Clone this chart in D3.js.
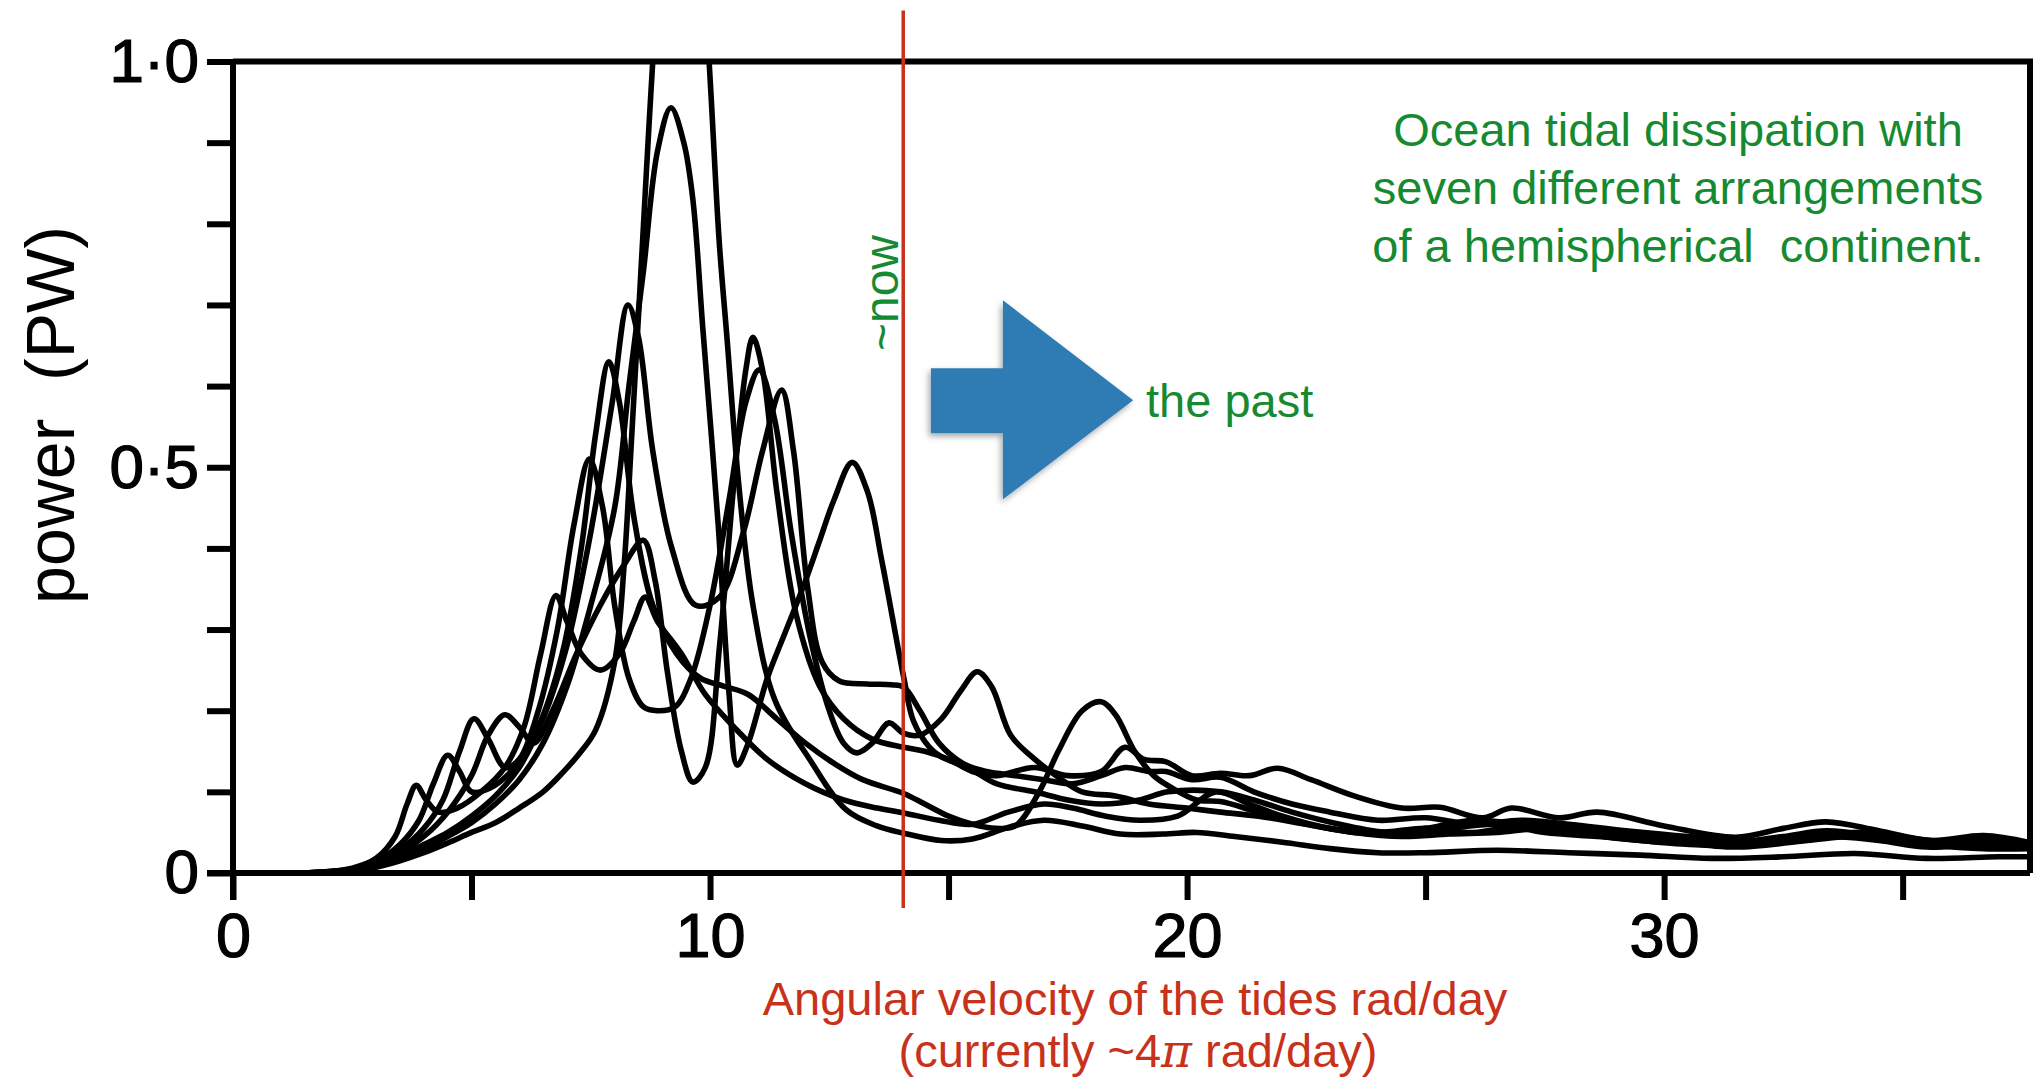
<!DOCTYPE html>
<html>
<head>
<meta charset="utf-8">
<script src="https://cdn.jsdelivr.net/npm/d3@7"></script>
<style>
  body { margin: 0; background: #fff; overflow: hidden; }
  text { font-family: "Liberation Sans", Arial, Helvetica, sans-serif; white-space: pre; }
</style>
</head>
<body>
<div id="chart"></div>
<script>
const WIDTH = 2034, HEIGHT = 1085;
const PLOT = {LEFT: 233, RIGHT: 2030, TOP: 61.5, BOTTOM: 873};

// axis ticks
const xTickValues = [0, 5, 10, 15, 20, 25, 30, 35];
const xTickLabels = [0, 10, 20, 30];
const yTickValues = [0, 0.1, 0.2, 0.3, 0.4, 0.5, 0.6, 0.7, 0.8, 0.9, 1.0];
const yTickLabels = {0: "0", 0.5: "0·5", 1: "1·0"};
const X_MAX = 37.67;

// "now" marker (rad/day) and the arrow towards the past, in data units
const nowX = 14.05;
const nowSpan = [-0.043, 1.063];
const arrowShape = [[14.63, 0.542], [16.14, 0.542], [16.14, 0.4606], [18.87, 0.5825],
                    [16.14, 0.7057], [16.14, 0.622], [14.63, 0.622]];

// seven continent arrangements: [angular velocity, power PW]
const curveA = [[1.5,0],[2.5,0.002],[3.0,0.007],[3.5,0.015],[4.0,0.025],[4.5,0.037],[5.0,0.05],[5.5,0.062],
  [6.0,0.08],[6.5,0.1],[6.9,0.123],[7.3,0.15],[7.6,0.176],[8.0,0.26],[8.2,0.38],[8.35,0.53],[8.55,0.74],
  [8.7,0.9],[8.85,1.05],[9.1,1.28],[9.4,1.38],[9.7,1.24],[9.98,1.0],[10.19,0.78],[10.36,0.656],[10.6,0.48],
  [10.9,0.33],[11.36,0.213],[12.1,0.139],[12.85,0.078],[13.5,0.058],[14.06,0.049],[14.85,0.04],[15.5,0.042],
  [16.3,0.057],[17.0,0.065],[17.8,0.058],[18.6,0.048],[19.5,0.048],[20.2,0.05],[21.0,0.045],[22.0,0.038],
  [23.0,0.03],[24.0,0.025],[25.0,0.025],[26.5,0.028],[28.0,0.025],[29.5,0.022],[31.0,0.018],[32.5,0.02],
  [34.0,0.024],[35.5,0.018],[37.0,0.02],[37.7,0.02]];

const curveB = [[1.5,0],[2.5,0.003],[3.0,0.008],[3.5,0.018],[4.0,0.03],[4.5,0.045],[5.0,0.062],[5.5,0.085],
  [6.0,0.115],[6.5,0.16],[7.0,0.23],[7.5,0.33],[8.0,0.45],[8.3,0.6],[8.6,0.74],[8.9,0.89],[9.18,0.943],
  [9.45,0.9],[9.64,0.83],[9.85,0.67],[10.17,0.43],[10.4,0.22],[10.57,0.133],[10.8,0.16],[11.2,0.24],
  [11.6,0.3],[12.0,0.36],[12.3,0.41],[12.6,0.46],[12.98,0.506],[13.3,0.47],[13.6,0.385],[14.06,0.241],
  [14.26,0.188],[14.6,0.155],[14.85,0.143],[15.4,0.13],[16.0,0.11],[16.8,0.1],[17.5,0.09],[18.2,0.085],
  [19.0,0.09],[19.6,0.1],[20.7,0.1],[21.4,0.09],[22.2,0.075],[23.2,0.06],[24.2,0.05],[25.0,0.055],
  [26.0,0.065],[27.0,0.06],[28.0,0.055],[29.0,0.048],[30.5,0.04],[32.0,0.035],[33.4,0.045],[34.5,0.04],
  [35.5,0.032],[36.7,0.035],[37.7,0.03]];

const curveC = [[1.5,0],[2.5,0.004],[3.0,0.01],[3.5,0.024],[4.0,0.045],[4.5,0.075],[5.0,0.12],[5.35,0.17],
  [5.7,0.195],[6.0,0.18],[6.3,0.16],[6.7,0.2],[7.2,0.27],[7.7,0.33],[8.2,0.38],[8.6,0.41],[8.85,0.36],
  [9.1,0.25],[9.4,0.15],[9.64,0.112],[9.9,0.13],[10.2,0.28],[10.5,0.48],[10.75,0.62],[10.9,0.66],
  [11.1,0.62],[11.4,0.47],[11.8,0.32],[12.3,0.23],[12.8,0.19],[13.4,0.165],[14.06,0.155],[14.5,0.15],
  [15.0,0.14],[15.5,0.125],[16.0,0.12],[16.8,0.13],[17.5,0.12],[18.2,0.125],[18.7,0.155],[19.1,0.14],
  [19.56,0.137],[20.1,0.12],[20.7,0.123],[21.3,0.12],[21.9,0.129],[22.6,0.115],[23.5,0.095],[24.5,0.08],
  [25.3,0.081],[26.2,0.068],[26.8,0.08],[27.8,0.068],[28.6,0.075],[30.0,0.058],[31.5,0.044],[32.5,0.055],
  [33.4,0.063],[34.5,0.052],[35.6,0.04],[36.7,0.046],[37.7,0.037]];

const curveD = [[1.5,0],[2.5,0.004],[3.0,0.011],[3.5,0.028],[4.0,0.055],[4.4,0.09],[4.75,0.15],[5.05,0.19],
  [5.35,0.165],[5.7,0.13],[6.0,0.14],[6.4,0.2],[6.8,0.3],[7.15,0.43],[7.47,0.51],[7.75,0.45],[8.0,0.33],
  [8.3,0.24],[8.6,0.205],[8.9,0.2],[9.27,0.205],[9.6,0.24],[10.0,0.33],[10.4,0.46],[10.75,0.58],[11.03,0.62],
  [11.35,0.56],[11.7,0.42],[12.1,0.29],[12.5,0.2],[12.8,0.16],[13.08,0.148],[13.4,0.16],[13.75,0.185],
  [14.06,0.172],[14.4,0.17],[14.85,0.19],[15.26,0.225],[15.6,0.248],[15.9,0.23],[16.3,0.17],[16.75,0.143],
  [17.3,0.118],[17.8,0.1],[18.5,0.095],[19.2,0.085],[20.0,0.08],[20.7,0.075],[21.5,0.07],[22.5,0.06],
  [23.5,0.05],[24.5,0.048],[25.5,0.055],[26.5,0.06],[27.5,0.05],[28.6,0.045],[30.0,0.038],[31.5,0.035],
  [33.0,0.045],[34.2,0.05],[35.6,0.04],[36.7,0.038],[37.7,0.035]];

const curveE = [[1.5,0],[2.5,0.005],[3.0,0.014],[3.5,0.035],[3.9,0.065],[4.2,0.11],[4.5,0.145],[4.75,0.125],
  [5.0,0.1],[5.4,0.105],[5.9,0.13],[6.4,0.18],[6.9,0.27],[7.3,0.4],[7.6,0.54],[7.88,0.63],[8.1,0.58],
  [8.4,0.44],[8.8,0.33],[9.3,0.27],[9.8,0.24],[10.3,0.23],[10.8,0.22],[11.4,0.19],[12.0,0.16],[12.6,0.135],
  [13.2,0.115],[14.06,0.098],[14.5,0.085],[15.0,0.07],[15.5,0.06],[16.0,0.055],[16.4,0.058],[16.9,0.1],
  [17.3,0.15],[17.8,0.2],[18.2,0.211],[18.5,0.195],[18.9,0.15],[19.3,0.12],[19.65,0.106],[20.2,0.09],
  [20.7,0.088],[21.5,0.075],[22.5,0.06],[23.5,0.05],[24.5,0.045],[25.5,0.048],[26.5,0.05],[27.5,0.055],
  [28.5,0.048],[30.0,0.04],[31.5,0.032],[33.0,0.04],[34.0,0.045],[35.5,0.035],[36.7,0.03],[37.7,0.03]];

const curveF = [[1.5,0],[2.5,0.003],[3.0,0.009],[3.5,0.02],[4.0,0.035],[4.5,0.05],[5.0,0.07],[5.5,0.095],
  [6.0,0.13],[6.5,0.19],[7.0,0.28],[7.5,0.42],[7.95,0.58],[8.28,0.7],[8.5,0.66],[8.8,0.52],[9.2,0.4],
  [9.7,0.33],[10.2,0.34],[10.7,0.42],[11.1,0.52],[11.5,0.595],[11.75,0.52],[12.05,0.35],[12.35,0.26],
  [12.7,0.237],[13.3,0.233],[13.8,0.232],[14.06,0.229],[14.4,0.2],[14.8,0.16],[15.3,0.135],[15.8,0.125],
  [16.4,0.12],[17.0,0.115],[17.6,0.11],[18.2,0.12],[18.7,0.13],[19.2,0.125],[19.56,0.125],[20.1,0.115],
  [20.7,0.118],[21.4,0.1],[22.2,0.085],[23.0,0.075],[24.0,0.065],[25.0,0.068],[26.0,0.06],[27.0,0.065],
  [28.0,0.06],[29.2,0.052],[30.5,0.045],[32.0,0.04],[33.4,0.05],[34.6,0.045],[35.8,0.038],[36.8,0.04],
  [37.7,0.033]];

const curveG = [[1.5,0],[2.5,0.006],[3.0,0.018],[3.4,0.045],[3.65,0.085],[3.84,0.108],[4.05,0.09],
  [4.3,0.075],[4.7,0.08],[5.2,0.1],[5.7,0.13],[6.1,0.18],[6.45,0.27],[6.77,0.342],[7.0,0.31],[7.3,0.27],
  [7.7,0.25],[8.1,0.27],[8.4,0.31],[8.64,0.34],[8.9,0.31],[9.4,0.27],[9.9,0.22],[10.5,0.18],[11.2,0.14],
  [12.0,0.11],[12.8,0.09],[13.5,0.08],[14.06,0.074],[14.8,0.065],[15.5,0.06],[16.25,0.075],[17.0,0.085],
  [17.6,0.08],[18.3,0.07],[19.0,0.065],[19.8,0.07],[20.6,0.1],[21.3,0.085],[22.0,0.07],[23.0,0.055],
  [24.0,0.05],[25.0,0.055],[26.0,0.05],[27.0,0.058],[28.0,0.05],[29.5,0.04],[31.0,0.035],[32.5,0.045],
  [33.4,0.052],[34.5,0.045],[35.6,0.035],[36.7,0.04],[37.7,0.035]];

const arrangements = [curveA, curveB, curveC, curveD, curveE, curveF, curveG];

const GREEN = "#168a31";
const RED = "#c8321a";

const svg = d3.select("#chart").append("svg")
    .attr("width", WIDTH)
    .attr("height", HEIGHT)
    .style("background", "#fff");

const x = d3.scaleLinear().domain([0, X_MAX]).range([PLOT.LEFT, PLOT.RIGHT]);
const y = d3.scaleLinear().domain([0, 1]).range([PLOT.BOTTOM, PLOT.TOP]);

svg.append("defs").append("clipPath").attr("id", "plot-clip")
    .append("rect")
    .attr("x", PLOT.LEFT)
    .attr("y", PLOT.TOP)
    .attr("width", PLOT.RIGHT - PLOT.LEFT)
    .attr("height", PLOT.BOTTOM - PLOT.TOP + 6);

const shadow = svg.select("defs").append("filter").attr("id", "arrow-shadow")
    .attr("x", "-20%").attr("y", "-20%").attr("width", "140%").attr("height", "140%");
shadow.append("feDropShadow")
    .attr("dx", -2).attr("dy", 3).attr("stdDeviation", 3)
    .attr("flood-color", "#000").attr("flood-opacity", 0.35);

// curves
const line = d3.line()
    .x(d => x(d[0]))
    .y(d => y(d[1]))
    .curve(d3.curveCatmullRom.alpha(0.5));

svg.append("g")
    .attr("clip-path", "url(#plot-clip)")
    .selectAll("path")
    .data(arrangements)
    .enter()
    .append("path")
    .attr("d", line)
    .attr("fill", "none")
    .attr("stroke", "#000")
    .attr("stroke-width", 5.6)
    .attr("stroke-linejoin", "round")
    .attr("stroke-linecap", "round");

// frame: top and right
svg.append("path")
    .attr("d", `M${x(0)},${y(1)} H${x(X_MAX)} V${y(0)}`)
    .attr("fill", "none")
    .attr("stroke", "#000")
    .attr("stroke-width", 6);

// x axis
const xAxis = svg.append("g")
    .attr("transform", `translate(0, ${y(0)})`)
    .call(d3.axisBottom(x)
        .tickValues(xTickValues)
        .tickSize(27)
        .tickPadding(12)
        .tickFormat(d => xTickLabels.includes(d) ? d : ""));
xAxis.select(".domain")
    .attr("d", `M${x(0) - 26},0 H${x(X_MAX)}`)
    .attr("stroke-width", 6);
xAxis.selectAll(".tick line").attr("stroke-width", 6);
xAxis.selectAll(".tick text")
    .attr("font-size", 63)
    .attr("font-family", "Liberation Sans, Arial, sans-serif")
    .attr("fill", "#000")
    .attr("stroke", "#000")
    .attr("stroke-width", 1.2);

// y axis
const yAxis = svg.append("g")
    .attr("transform", `translate(${x(0)}, 0)`)
    .call(d3.axisLeft(y)
        .tickValues(yTickValues)
        .tickSize(26)
        .tickPadding(8)
        .tickFormat(d => yTickLabels[d] || ""));
yAxis.select(".domain")
    .attr("d", `M0,${y(1)} V${y(0) + 27}`)
    .attr("stroke-width", 6);
yAxis.selectAll(".tick line").attr("stroke-width", 6);
yAxis.selectAll(".tick text")
    .attr("font-size", 62)
    .attr("font-family", "Liberation Sans, Arial, sans-serif")
    .attr("fill", "#000")
    .attr("stroke", "#000")
    .attr("stroke-width", 1.2);

// y label
svg.append("text")
    .attr("transform", `translate(74, 415) rotate(-90)`)
    .attr("text-anchor", "middle")
    .attr("font-size", 68)
    .attr("fill", "#000")
    .text("power  (PW)");

// now marker
svg.append("line")
    .attr("x1", x(nowX))
    .attr("x2", x(nowX))
    .attr("y1", y(nowSpan[1]))
    .attr("y2", y(nowSpan[0]))
    .attr("stroke", RED)
    .attr("stroke-width", 3.5);

svg.append("text")
    .attr("transform", `translate(${x(nowX) - 5}, 293) rotate(-90)`)
    .attr("text-anchor", "middle")
    .attr("font-size", 48)
    .attr("fill", GREEN)
    .text("~now");

// arrow
svg.append("polygon")
    .attr("points", arrowShape.map(d => [x(d[0]), y(d[1])].join(",")).join(" "))
    .attr("fill", "#2e7cb3")
    .attr("filter", "url(#arrow-shadow)");

svg.append("text")
    .attr("x", 1146)
    .attr("y", 417)
    .attr("font-size", 47)
    .attr("fill", GREEN)
    .text("the past");

// note
const note = ["Ocean tidal dissipation with", "seven different arrangements", "of a hemispherical  continent."];
svg.append("g").selectAll("text")
    .data(note)
    .enter()
    .append("text")
    .attr("x", 1678)
    .attr("y", (d, i) => 146 + i * 58)
    .attr("text-anchor", "middle")
    .attr("font-size", 47)
    .attr("fill", GREEN)
    .text(d => d);

// x label
svg.append("text")
    .attr("x", 1135)
    .attr("y", 1015)
    .attr("text-anchor", "middle")
    .attr("font-size", 47)
    .attr("fill", RED)
    .text("Angular velocity of the tides rad/day");

const xLabel2 = svg.append("text")
    .attr("x", 1138)
    .attr("y", 1067)
    .attr("text-anchor", "middle")
    .attr("font-size", 47)
    .attr("fill", RED);
xLabel2.append("tspan").text("(currently ~4");
xLabel2.append("tspan").attr("font-style", "italic").attr("font-family", "DejaVu Serif, serif").text("π");
xLabel2.append("tspan").text(" rad/day)");
</script>
</body>
</html>
